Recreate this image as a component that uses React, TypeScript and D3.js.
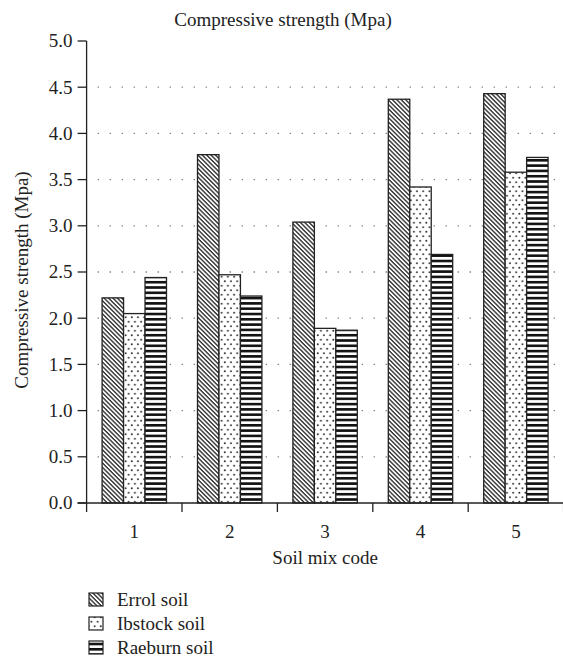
import React from "react";
import * as d3 from "d3";

const categories = ["1", "2", "3", "4", "5"];
const seriesNames = ["Errol soil", "Ibstock soil", "Raeburn soil"];
const errol = [2.22, 3.77, 3.04, 4.37, 4.43];
const ibstock = [2.05, 2.47, 1.89, 3.42, 3.58];
const raeburn = [2.44, 2.24, 1.87, 2.69, 3.74];
const yTicks = [0, 0.5, 1, 1.5, 2, 2.5, 3, 3.5, 4, 4.5, 5];
const gridValues = [0.5, 1, 1.5, 2, 2.5, 3, 3.5, 4, 4.5];

const W = 563;
const H = 666;
const FONT = "'Liberation Serif', 'DejaVu Serif', serif";
const FS = 19;

export default function App() {
  const series = [errol, ibstock, raeburn];
  const patterns = ["pErrol", "pIbstock", "pRaeburn"];
  const x0 = 86.6;
  const x1 = 563.6;
  const yBottom = 503;
  const yTop = 41;
  const y = d3.scaleLinear().domain([0, 5]).range([yBottom, yTop]);
  const x = d3.scaleBand<string>().domain(categories).range([x0, x1]).paddingInner(0.325).paddingOuter(0.1625);
  const xs = d3.scaleBand<string>().domain(seriesNames).range([0, x.bandwidth()]);
  const step = x.step();

  return (
    <svg width={W} height={H} style={{ position: "absolute", left: 0, top: 0, background: "#fff" }}>
      <defs>
        <pattern id="pErrol" patternUnits="userSpaceOnUse" width={3.1} height={3.1} patternTransform="rotate(45)">
          <rect width={3.1} height={3.1} fill="#fff" />
          <rect y={0} width={3.1} height={1.4} fill="#333" />
        </pattern>
        <pattern id="pIbstock" patternUnits="userSpaceOnUse" width={6.2} height={9}>
          <rect width={6.2} height={9} fill="#fff" />
          <circle cx={1.6} cy={2.2} r={0.95} fill="#333" />
          <circle cx={4.7} cy={6.7} r={0.95} fill="#333" />
        </pattern>
        <pattern id="pRaeburn" patternUnits="userSpaceOnUse" width={6} height={5.3}>
          <rect width={6} height={5.3} fill="#fff" />
          <rect y={0} width={6} height={2.6} fill="#111" />
        </pattern>
      </defs>

      <text x={283} y={26} textAnchor="middle" fontFamily={FONT} fontSize={FS} fill="#222">
        Compressive strength (Mpa)
      </text>

      {gridValues.map((v) => (
        <line key={v} x1={x0 + 1} x2={W} y1={y(v)} y2={y(v)} stroke="#777" strokeWidth={1.3} strokeDasharray="1.3 10.7" strokeDashoffset={-10} />
      ))}

      {categories.map((c, i) => (
        <g key={c}>
          {series.map((s, j) => (
            <rect
              key={j}
              x={(x(c) as number) + (xs(seriesNames[j]) as number)}
              y={y(s[i])}
              width={xs.bandwidth()}
              height={yBottom - y(s[i])}
              fill={`url(#${patterns[j]})`}
              stroke="#222"
              strokeWidth={1.3}
            />
          ))}
        </g>
      ))}

      {/* y axis */}
      <line x1={x0} x2={x0} y1={yTop} y2={yBottom + 9} stroke="#222" strokeWidth={1.3} />
      {yTicks.map((t) => (
        <g key={t}>
          <line x1={x0 - 9} x2={x0} y1={y(t)} y2={y(t)} stroke="#222" strokeWidth={1.3} />
          <text x={x0 - 14} y={y(t)} dy="0.34em" textAnchor="end" fontFamily={FONT} fontSize={FS} fill="#222">
            {t.toFixed(1)}
          </text>
        </g>
      ))}

      {/* x axis */}
      <line x1={x0 - 9} x2={W} y1={yBottom} y2={yBottom} stroke="#222" strokeWidth={1.3} />
      {categories.map((c, i) => (
        <g key={c}>
          <line x1={x0 + step * (i + 1)} x2={x0 + step * (i + 1)} y1={yBottom} y2={yBottom + 9} stroke="#222" strokeWidth={1.3} />
          <text x={(x(c) as number) + x.bandwidth() / 2} y={538} textAnchor="middle" fontFamily={FONT} fontSize={FS} fill="#222">
            {c}
          </text>
        </g>
      ))}

      <text x={(x0 + x1) / 2} y={564} textAnchor="middle" fontFamily={FONT} fontSize={FS} fill="#222">
        Soil mix code
      </text>

      <text transform={`translate(28, ${(yTop + yBottom) / 2 + 8}) rotate(-90)`} textAnchor="middle" fontFamily={FONT} fontSize={FS} fill="#222">
        Compressive strength (Mpa)
      </text>

      {seriesNames.map((n, j) => (
        <g key={n} transform={`translate(0, ${600 + j * 24})`}>
          <rect x={89} y={-7} width={14} height={13} fill={`url(#${patterns[j]})`} stroke="#222" strokeWidth={1.2} />
          <text x={117} y={0} dy="0.34em" fontFamily={FONT} fontSize={FS} fill="#222">
            {n}
          </text>
        </g>
      ))}
    </svg>
  );
}
